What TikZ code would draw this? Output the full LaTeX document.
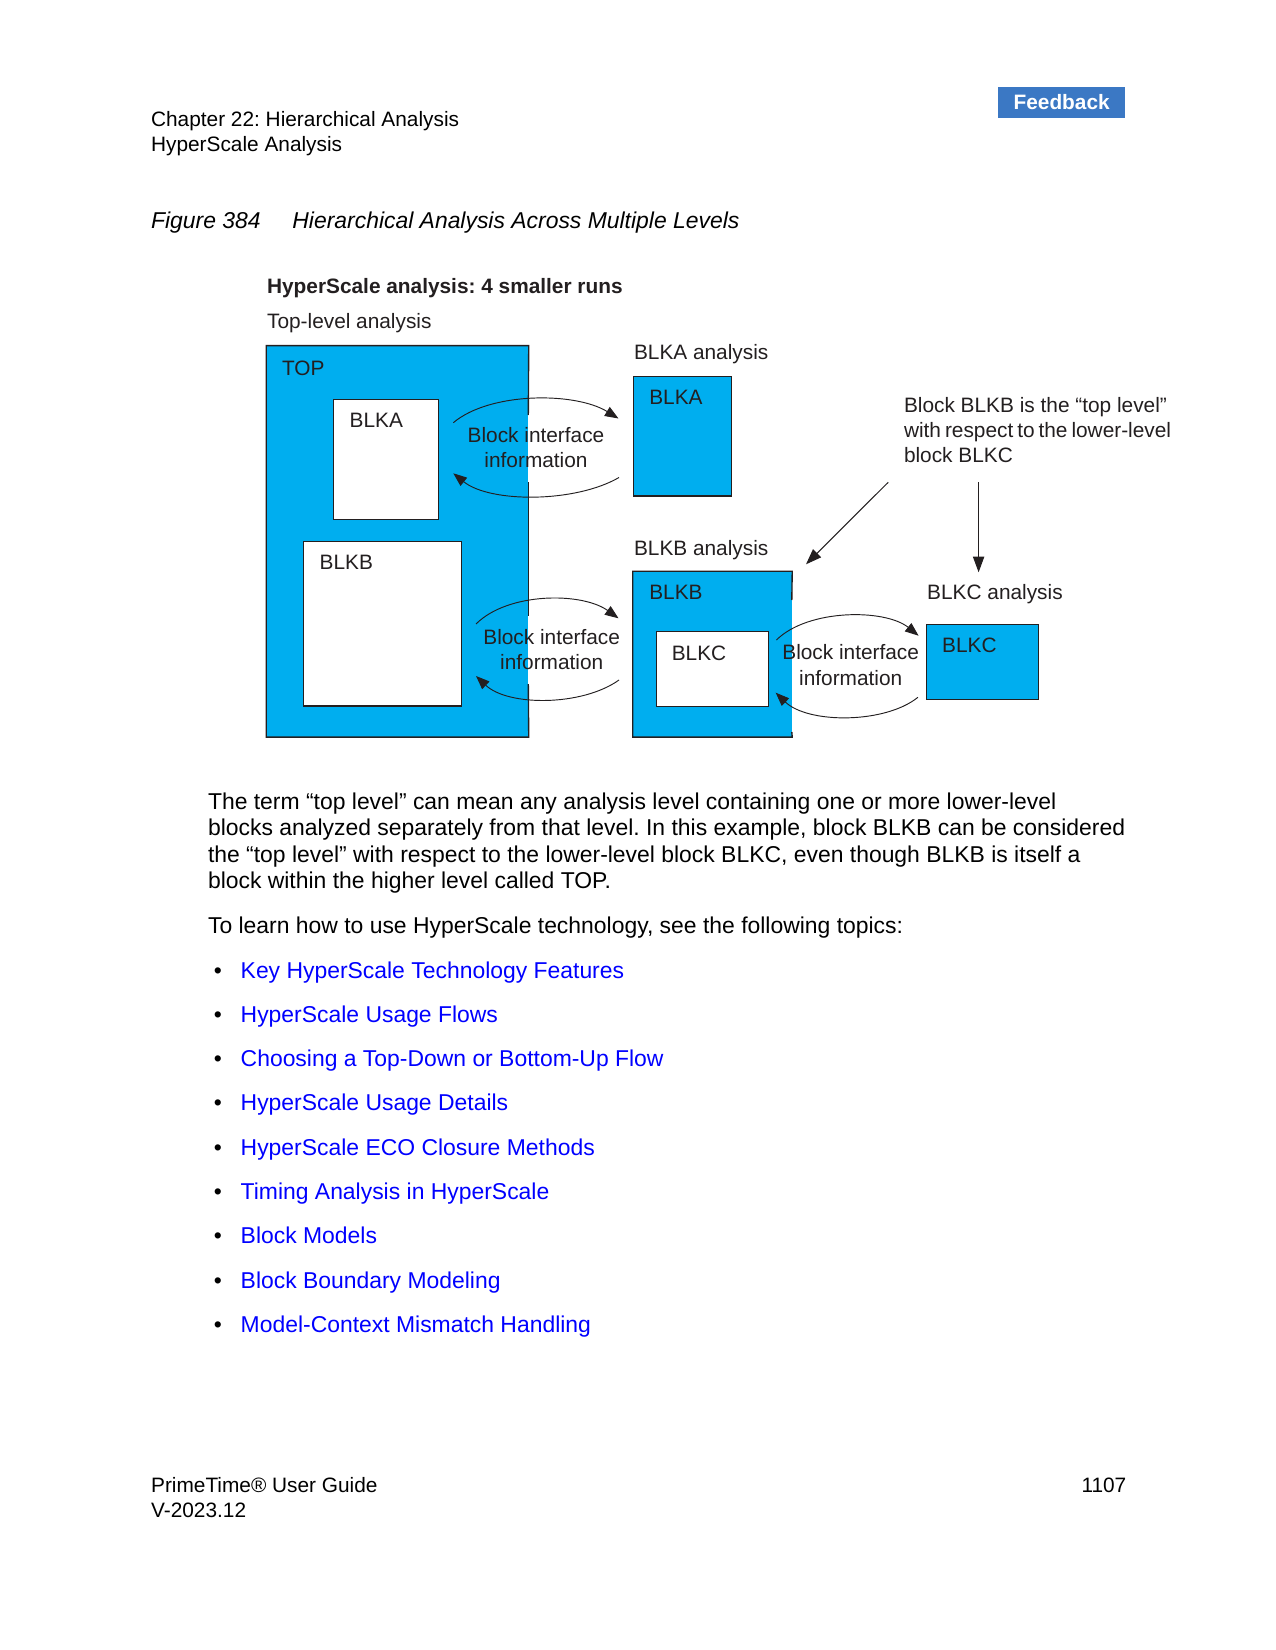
\documentclass[tikz,border=0pt]{standalone}
\usepackage{fontspec}
\setmainfont{Liberation Sans}
\usetikzlibrary{arrows.meta,fit}
\definecolor{cyanbox}{HTML}{00AEEF}
\definecolor{fbblue}{RGB}{59,120,196}
\definecolor{linkblue}{RGB}{0,0,255}
\definecolor{ink}{HTML}{231F20}
\frenchspacing
\begin{document}
\begin{tikzpicture}[x=0.48pt,y=-0.48pt,
  txt/.style={anchor=base west,inner sep=0pt,font=\fontsize{10}{12}\selectfont,text=ink},
  ctxt/.style={anchor=base,inner sep=0pt,font=\fontsize{10}{12}\selectfont,text=ink},
  body/.style={anchor=base west,inner sep=0pt,font=\fontsize{11}{13}\selectfont,text=black},
  linkitem/.style={body,text=linkblue},
  bul/.style={anchor=base west,inner sep=0pt,font=\fontsize{11}{13}\selectfont,text=black},
  bluebox/.style={fill=cyanbox,inner sep=0pt},
  whitebox/.style={draw=ink,fill=white,line width=0.65pt,inner sep=0pt},
  blueframe/.style={draw=ink,fill=cyanbox,line width=0.65pt,inner sep=0pt},
  border/.style={draw=ink,line width=0.65pt},
  arcline/.style={draw=ink,line width=0.45pt,-{Triangle[length=6.5pt,width=5pt]}},
  pointer/.style={draw=ink,line width=0.5pt,-{Triangle[length=7.5pt,width=5.4pt]}},
]
\fill[white] (0,0) rectangle (1275,1650);
\useasboundingbox (0,0) rectangle (1275,1650);

% header
\node[txt,text=black] (ch) at (150.7,127) {Chapter 22: Hierarchical Analysis};
\node[txt,text=black] (hs) at (150.7,152) {HyperScale Analysis};
\coordinate (fbA) at (998.3,86.7);
\coordinate (fbB) at (1125,117.7);
\node[fill=fbblue,inner sep=0pt,fit=(fbA)(fbB)] (fbbox) {};
\node[inner sep=0pt,font=\fontsize{10}{12}\selectfont\bfseries,text=white] (fb) at (fbbox.center) {Feedback};

% caption
\node[body,font=\fontsize{11}{13}\selectfont\itshape] (fig) at (150.7,228.7) {Figure 384};
\node[body,font=\fontsize{11}{13}\selectfont\itshape] (figt) at (292,228.7) {Hierarchical Analysis Across Multiple Levels};

% diagram titles
\node[txt,font=\fontsize{10}{12}\selectfont\bfseries] (dtitle) at (266.7,294) {HyperScale analysis: 4 smaller runs};
\node[txt] (tla) at (266.7,328.5) {Top-level analysis};

% TOP box
\coordinate (topA) at (266.7,346);
\coordinate (topB) at (528.3,736.7);
\node[bluebox,fit=(topA)(topB)] (TOP) {};
\draw[border] (528.3,415) -- (TOP.north east) -- (TOP.north west) -- (TOP.south west) -- (TOP.south east) -- (528.3,684);
\draw[border] (528.3,482) -- (528.3,616);
\node[txt] (toplbl) at (281.7,375.5) {TOP};

\coordinate (waA) at (333.3,399.3);
\coordinate (waB) at (438.7,519.3);
\node[whitebox,fit=(waA)(waB)] (wBLKA) {};
\node[txt] (wBLKAl) at (349.3,427.7) {BLKA};

\coordinate (wbA) at (303.3,541.3);
\coordinate (wbB) at (461.3,706);
\node[whitebox,fit=(wbA)(wbB)] (wBLKB) {};
\node[txt] (wBLKBl) at (319.3,569.3) {BLKB};

% BLKA analysis
\node[txt] (blkaan) at (633.6,360) {BLKA analysis};
\coordinate (baA) at (633.2,376.7);
\coordinate (baB) at (731.8,496);
\node[blueframe,fit=(baA)(baB)] (bBLKA) {};
\node[txt] (bBLKAl) at (648.9,405) {BLKA};

% BLKB analysis
\node[txt] (blkban) at (633.6,555) {BLKB analysis};
\coordinate (bbA) at (633.2,571.7);
\coordinate (bbB) at (791.8,736.7);
\node[bluebox,fit=(bbA)(bbB)] (bBLKB) {};
\draw[border] (791.8,600) -- (bBLKB.north east) -- (bBLKB.north west) -- (bBLKB.south west) -- (bBLKB.south east) -- (791.8,732);
\node[txt] (bBLKBl) at (648.9,599.3) {BLKB};
\coordinate (wcA) at (656.8,631.7);
\coordinate (wcB) at (768.6,706.7);
\node[whitebox,fit=(wcA)(wcB)] (wBLKC) {};
\node[txt] (wBLKCl) at (671.4,660) {BLKC};

% BLKC analysis
\node[txt] (blkcan) at (926.8,599.3) {BLKC analysis};
\coordinate (bcA) at (926.4,624.3);
\coordinate (bcB) at (1038.2,699.3);
\node[blueframe,fit=(bcA)(bcB)] (bBLKC) {};
\node[txt] (bBLKCl) at (941.8,652.7) {BLKC};

% annotation
\node[txt] (an1) at (903.6,412.7) {Block BLKB is the “top level”};
\node[txt] (an2) at (903.6,438) {\spaceskip=1.9pt plus 0.5pt with respect to the lower-level};
\node[txt] (an3) at (903.6,462.7) {block BLKC};
\coordinate (d1s) at (888.2,482.3);
\coordinate (d1e) at (806,564.3);
\coordinate (d2s) at (978.6,482.3);
\coordinate (d2e) at (978.6,572.3);
\draw[pointer] (d1s) -- (d1e);
\draw[pointer] (d2s) -- (d2e);

% interface texts
\node[ctxt] (bi1a) at (536,442.7) {Block interface};
\node[ctxt] (bi1b) at (536,467.3) {information};
\node[ctxt] (bi2a) at (551.7,644) {Block interface};
\node[ctxt] (bi2b) at (551.7,669.3) {information};
\node[ctxt] (bi3a) at (850.7,659.3) {Block interface};
\node[ctxt] (bi3b) at (850.7,685) {information};

% arcs
\coordinate (a1s) at (453.3,422.7); \coordinate (a1e) at (618.5,418.5);
\coordinate (b1s) at (619,477.5);   \coordinate (b1e) at (453.3,473.3);
\draw[arcline] (a1s) .. controls (490,391.8) and (575,391.8) .. (a1e);
\draw[arcline] (b1s) .. controls (575,503) and (490,503) .. (b1e);
\coordinate (a2s) at (476,624);     \coordinate (a2e) at (618.5,618.3);
\coordinate (b2s) at (619,680);     \coordinate (b2e) at (476,676);
\draw[arcline] (a2s) .. controls (508,592) and (582,592) .. (a2e);
\draw[arcline] (b2s) .. controls (582,706.4) and (508,706.4) .. (b2e);
\coordinate (a3s) at (776.4,640);   \coordinate (a3e) at (918.6,635.7);
\coordinate (b3s) at (917.9,697.3); \coordinate (b3e) at (775.7,692.7);
\draw[arcline] (a3s) .. controls (808,608.7) and (885,608.7) .. (a3e);
\draw[arcline] (b3s) .. controls (885,723.9) and (808,723.9) .. (b3e);

% body text
\node[body] (p1) at (207.6,809.5) {The term “top level” can mean any analysis level containing one or more lower-level};
\node[body] (p2) at (207.6,835.8) {blocks analyzed separately from that level. In this example, block BLKB can be considered};
\node[body] (p3) at (207.6,862.1) {the “top level” with respect to the lower-level block BLKC, even though BLKB is itself a};
\node[body] (p4) at (207.6,888.4) {block within the higher level called TOP.};
\node[body] (p5) at (207.6,933.8) {To learn how to use HyperScale technology, see the following topics:};

\foreach \yy/\itemtext [count=\i] in {978.1/Key HyperScale Technology Features,
  1022.4/HyperScale Usage Flows,
  1066.6/Choosing a Top-Down or Bottom-Up Flow,
  1110.9/HyperScale Usage Details,
  1155.2/HyperScale ECO Closure Methods,
  1199.5/Timing Analysis in HyperScale,
  1243.7/Block Models,
  1288/Block Boundary Modeling,
  1332.3/Model-Context Mismatch Handling}{
  \node[bul] (bul\i) at (213.5,\yy) {•};
  \node[linkitem] (item\i) at (240.3,\yy) {\itemtext};
}

% footer
\node[txt,text=black] (f1) at (150.7,1492.5) {PrimeTime® User Guide};
\node[txt,text=black] (f2) at (150.7,1517.8) {V-2023.12};
\node[txt,text=black,anchor=base east] (pg) at (1126.7,1492.5) {1107};
\end{tikzpicture}
\end{document}
